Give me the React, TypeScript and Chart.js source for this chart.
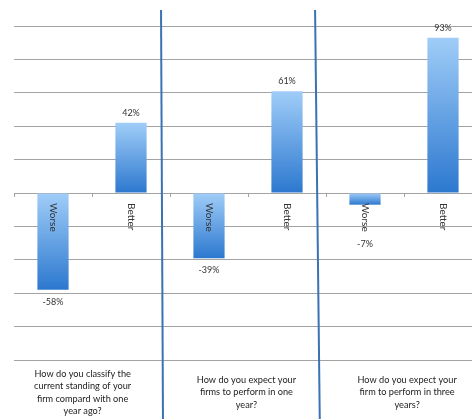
import React, { useEffect, useRef } from "react";
import { Chart, registerables } from "chart.js";

Chart.register(...registerables);

// Survey answers, three questions with a Worse / Better split each
const categories = ["Worse", "Better", "Worse", "Better", "Worse", "Better"];
const values = [-58, 42, -39, 61, -7, 93];
const valueLabels = ["-58%", "42%", "-39%", "61%", "-7%", "93%"];
const questions = [
  ["How do you classify the", "current standing of your", "firm compard with one", "year ago?"],
  ["How do you expect your", "firms to perform in one", "year?"],
  ["How do you expect your", "firm to perform in three", "years?"],
];
const yMin = -100;
const yMax = 100;
const yStep = 20;

const FONT = "Lato, 'Open Sans', 'DejaVu Sans', sans-serif";
const TEXT = "#333333";
const GRID = "#a3a3a3";

const overlayPlugin = {
  id: "surveyOverlay",
  afterDatasetsDraw(chart: any) {
    const { ctx, scales, chartArea } = chart;
    const x = scales.x;
    const y = scales.y;
    const zero = y.getPixelForValue(0);
    const half = (x.getPixelForValue(1) - x.getPixelForValue(0)) / 2;

    ctx.save();

    // tick marks under the zero line at category boundaries
    ctx.strokeStyle = GRID;
    ctx.lineWidth = 1;
    for (let i = 0; i <= categories.length; i++) {
      const px = Math.round(x.getPixelForValue(i) - half) + 0.5;
      ctx.beginPath();
      ctx.moveTo(px, zero);
      ctx.lineTo(px, zero + 4);
      ctx.stroke();
    }

    // category names, rotated and hanging from the zero line
    ctx.fillStyle = TEXT;
    ctx.font = `10px ${FONT}`;
    ctx.textBaseline = "middle";
    ctx.textAlign = "left";
    const labelStart = zero + 10;
    let labelEnd = labelStart;
    categories.forEach((c, i) => {
      const px = x.getPixelForValue(i);
      ctx.save();
      ctx.translate(px, labelStart);
      ctx.rotate(Math.PI / 2);
      ctx.fillText(c, 0, 0);
      ctx.restore();
      labelEnd = Math.max(labelEnd, labelStart + ctx.measureText(c).width);
    });

    // value labels
    ctx.font = `9px ${FONT}`;
    ctx.textAlign = "center";
    values.forEach((v, i) => {
      const px = x.getPixelForValue(i);
      const py = y.getPixelForValue(v);
      const ly = v >= 0 ? py - 10 : Math.max(py, labelEnd) + 12;
      ctx.fillText(valueLabels[i], px, ly);
    });

    // question text under each pair of bars
    ctx.font = `9.2px ${FONT}`;
    ctx.fillStyle = "#222222";
    const lineH = 12.5;
    const midY = (chartArea.bottom + chart.height) / 2 + 3;
    const shift = [-0.12, -0.02, 0.04];
    questions.forEach((lines, g) => {
      const cx = x.getPixelForValue(2 * g + 0.5 + shift[g]);
      const top = midY - ((lines.length - 1) * lineH) / 2;
      lines.forEach((t, k) => ctx.fillText(t, cx, top + k * lineH));
    });

    // dividers between the three questions
    ctx.strokeStyle = "#3b72b3";
    ctx.lineWidth = 2;
    const dividers = [
      [1.385, 1.41],
      [3.36, 3.42],
    ];
    dividers.forEach(([a, b]) => {
      ctx.beginPath();
      ctx.moveTo(x.getPixelForValue(a), 10);
      ctx.lineTo(x.getPixelForValue(b), chart.height);
      ctx.stroke();
    });

    ctx.restore();
  },
};

export default function App() {
  const ref = useRef<HTMLCanvasElement | null>(null);

  useEffect(() => {
    if (!ref.current) return;
    const chart = new Chart(ref.current, {
      type: "bar",
      data: {
        labels: categories,
        datasets: [
          {
            data: values,
            borderWidth: 0,
            categoryPercentage: 1,
            barPercentage: 0.4,
            backgroundColor: (c: any) => {
              const ch = c.chart;
              if (!ch.chartArea || c.raw === undefined) return "#5e9ce6";
              const v = c.raw as number;
              const top = ch.scales.y.getPixelForValue(Math.max(v, 0));
              const bot = ch.scales.y.getPixelForValue(Math.min(v, 0));
              const g = ch.ctx.createLinearGradient(0, top, 0, bot);
              g.addColorStop(0, "#a0cdf8");
              g.addColorStop(1, "#2c78cf");
              return g;
            },
          },
        ],
      },
      options: {
        responsive: false,
        animation: false,
        devicePixelRatio: 1,
        layout: { padding: { left: 14, right: 8, top: 26, bottom: 59 } },
        plugins: { legend: { display: false }, tooltip: { enabled: false } },
        scales: {
          x: { display: false },
          y: {
            min: yMin,
            max: yMax,
            ticks: { display: false, stepSize: yStep },
            grid: { color: GRID, drawTicks: false, lineWidth: 1 },
            border: { display: false },
          },
        },
      },
      plugins: [overlayPlugin],
    });
    return () => chart.destroy();
  }, []);

  return (
    <div
      style={{
        position: "absolute",
        left: 0,
        top: 0,
        width: 472,
        height: 419,
        overflow: "hidden",
        background: "#ffffff",
      }}
    >
      <canvas ref={ref} width={490} height={419} style={{ display: "block" }} />
    </div>
  );
}
